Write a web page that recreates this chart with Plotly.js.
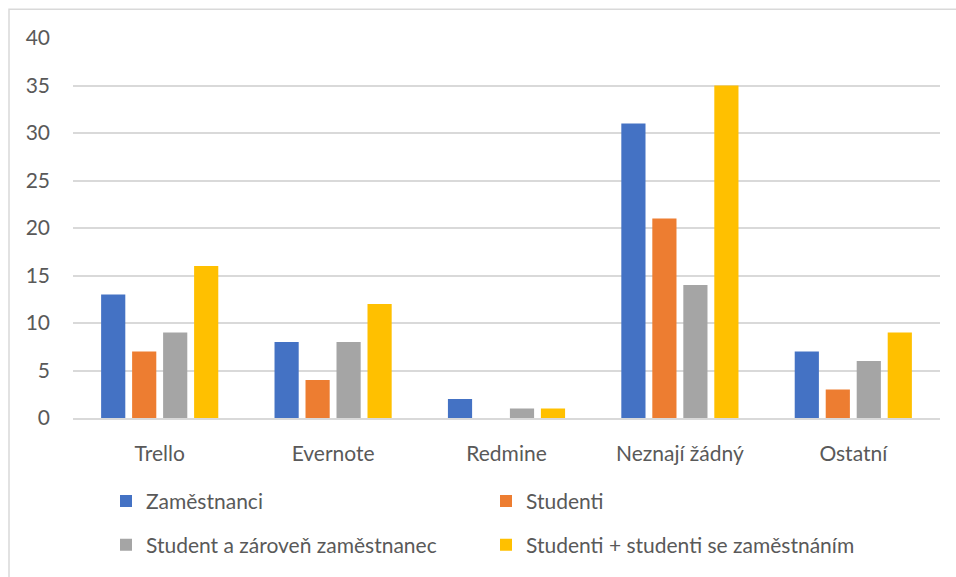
<!DOCTYPE html>
<html>
<head>
<meta charset="utf-8">
<script src="https://cdn.plot.ly/plotly-3.0.1.min.js"></script>
<style>html,body{margin:0;padding:0;background:#fff;}#chart{width:956px;height:577px;}</style>
</head>
<body>
<div id="chart"></div>
<script>
const categories = ["Trello", "Evernote", "Redmine", "Neznají žádný", "Ostatní"];
const zamestnanci = [13, 8, 2, 31, 7];
const studenti = [7, 4, 0, 21, 3];
const studentZamestnanec = [9, 8, 1, 14, 6];
const studentiPlus = [16, 12, 1, 35, 9];
const seriesNames = ["Zaměstnanci", "Studenti", "Student a zároveň zaměstnanec", "Studenti + studenti se zaměstnáním"];
const yTicks = [0, 5, 10, 15, 20, 25, 30, 35, 40];

const colors = ["#4472C4", "#ED7D31", "#A5A5A5", "#FFC000"];
const values = [zamestnanci, studenti, studentZamestnanec, studentiPlus];
const legends = ["legend", "legend", "legend2", "legend2"];

const font = {family: "Lato, 'Liberation Sans', sans-serif", size: 21, color: "#595959"};

const traces = values.map((v, i) => ({
  type: "bar",
  name: seriesNames[i],
  x: categories,
  y: v,
  marker: {color: colors[i]},
  legend: legends[i],
  hoverinfo: "x+y+name"
}));

const L = 73, R = 16, T = 38, B = 156;
const plotW = 956 - L - R, plotH = 577 - T - B;
const px2x = p => (p - L) / plotW;
const py2y = p => (577 - B - p) / plotH;

const layout = {
  width: 956, height: 577,
  margin: {l: L, r: R, t: T, b: B},
  paper_bgcolor: "#ffffff",
  plot_bgcolor: "#ffffff",
  font: font,
  barmode: "group",
  bargap: 0.285,
  bargroupgap: 0.22,
  xaxis: {
    type: "category",
    showgrid: false,
    showline: true,
    linecolor: "#d9d9d9",
    linewidth: 1.5,
    ticks: "",
    ticklabelstandoff: 16,
    tickfont: font,
    fixedrange: true
  },
  yaxis: {
    range: [0, 40],
    tickvals: yTicks,
    showgrid: true,
    gridcolor: "#d9d9d9",
    gridwidth: 1.5,
    zeroline: false,
    showline: false,
    ticks: "",
    ticklabelstandoff: 22,
    tickfont: font,
    fixedrange: true
  },
  legend: {
    orientation: "h",
    x: px2x(106), xanchor: "left",
    y: py2y(505), yanchor: "middle",
    entrywidth: 335,
    font: font,
    bgcolor: "rgba(0,0,0,0)",
    traceorder: "normal"
  },
  legend2: {
    orientation: "h",
    x: px2x(106), xanchor: "left",
    y: py2y(549), yanchor: "middle",
    entrywidth: 335,
    font: font,
    bgcolor: "rgba(0,0,0,0)",
    traceorder: "normal"
  },
  shapes: [{
    type: "rect", xref: "paper", yref: "paper",
    x0: px2x(9), x1: px2x(975),
    y0: py2y(600), y1: py2y(9),
    line: {color: "#d9d9d9", width: 1.5},
    fillcolor: "rgba(0,0,0,0)",
    layer: "below"
  }]
};

Plotly.newPlot("chart", traces, layout, {displayModeBar: false, staticPlot: false});
</script>
</body>
</html>
